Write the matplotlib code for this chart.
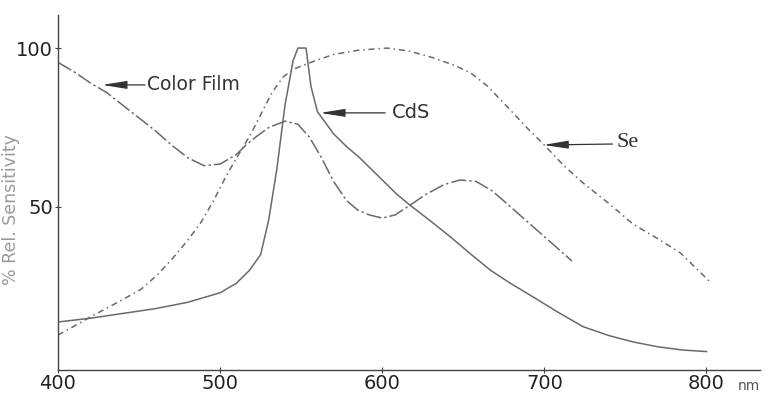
import matplotlib
matplotlib.use("Agg")
import matplotlib.pyplot as plt

# Data (wavelength nm, % relative sensitivity)
film_nm = [400, 410, 420, 430, 440, 450, 460, 470, 480, 490, 500, 510, 516, 522, 530, 540, 548, 555, 562, 570, 578, 585, 592, 600, 608, 617, 627, 638, 648, 658, 668, 677, 687, 697, 707, 717]
film_val = [95.5, 92.5, 89, 86, 82, 78, 74, 69.5, 65.5, 63, 63.5, 66.5, 69.5, 72, 75, 77, 76, 72, 66, 58, 52, 49, 47.5, 46.5, 47.5, 50.5, 54, 57, 58.5, 58, 55, 51, 46.5, 42, 37.5, 33]

cds_nm = [400, 420, 440, 460, 480, 500, 510, 518, 525, 530, 535, 540, 545, 548, 553, 556, 560, 565, 570, 578, 586, 597, 609, 617, 630, 642, 655, 667, 679, 693, 708, 724, 740, 755, 770, 785, 800]
cds_val = [13.8, 15, 16.5, 18, 20, 23, 26, 30, 35, 46, 62, 82, 96, 100, 100, 88, 80, 76.5, 73, 69, 65.5, 60, 54, 50.6, 45.5, 40.6, 35, 30, 26, 21.7, 17, 12.3, 9.5, 7.5, 6, 5, 4.5]

se_nm = [400, 410, 420, 435, 451, 461, 471, 480, 488, 496, 504, 512, 519, 525, 532, 539, 546, 556, 570, 585, 603, 617, 631, 645, 655, 665, 679, 690, 699, 712, 724, 740, 755, 770, 784, 795, 802]
se_val = [9.7, 12.5, 15.4, 19.5, 24, 28.5, 34, 39.5, 45, 52, 60, 67, 73, 79, 86, 91, 93.5, 95.5, 98, 99.3, 100, 99, 97, 94.5, 92, 88, 80.5, 74.5, 70, 63, 57.5, 51, 44.5, 40, 35.5, 30, 26.5]

x_ticks = [400, 500, 600, 700, 800]
y_ticks = [50, 100]

plt.rcParams['font.family'] = ['DejaVu Sans']

fig = plt.figure(figsize=(7.66, 3.94), dpi=100)
ax = fig.add_axes([58/766, 24/394, (760-58)/766, (370-15)/394])

lc = '#6a6a6a'
ax.plot(cds_nm, cds_val, color=lc, lw=1.1, ls='-')
ax.plot(film_nm, film_val, color=lc, lw=1.1, ls=(0, (10, 2, 1.5, 2)))
ax.plot(se_nm, se_val, color=lc, lw=1.1, ls=(0, (4, 2.5, 1, 2.5)))

ax.set_xlim(400, 833)
ax.set_ylim(-1.3, 110.4)
for s in ['top', 'right']:
    ax.spines[s].set_visible(False)
for s in ['left', 'bottom']:
    ax.spines[s].set_color('#444444')
    ax.spines[s].set_linewidth(1.0)

ax.set_xticks(x_ticks)
ax.set_yticks(y_ticks)
ax.set_xticklabels([str(v) for v in x_ticks])
ax.set_yticklabels([str(v) for v in y_ticks])
ax.tick_params(axis='both', labelsize=14, colors='#444444', labelcolor='#222222',
               direction='inout', length=5)
ax.tick_params(axis='x', pad=0.5)
ax.tick_params(axis='y', pad=1)

ax.set_ylabel('% Rel. Sensitivity', fontsize=12.5, color='#9a9a9a')
ax.yaxis.set_label_coords((20 - 58) / 702, (370 - 210) / 355)

ax.text(1.0, -0.025, 'nm', transform=ax.transAxes, fontsize=10, color='#555555',
        ha='right', va='top')

akw = dict(arrowstyle='-|>,head_length=1.0,head_width=0.16', color='#333333',
           lw=0.9, mutation_scale=15, shrinkA=0, shrinkB=0)
ax.annotate('', xy=(427.2, 88.4), xytext=(453.7, 88.4), arrowprops=akw)
ax.text(455, 88.4, 'Color Film', fontsize=13.5, color='#333333', va='center', ha='left')
ax.annotate('', xy=(561.7, 79.6), xytext=(601.9, 79.6), arrowprops=akw)
ax.text(606, 79.6, 'CdS', fontsize=14, color='#333333', va='center', ha='left')
ax.annotate('', xy=(699.4, 69.5), xytext=(742, 69.8), arrowprops=akw)
ax.text(744.4, 70.4, 'Se', fontsize=16, color='#333333', va='center', ha='left',
        family='Liberation Serif')

fig.savefig('out.png', dpi=100)
